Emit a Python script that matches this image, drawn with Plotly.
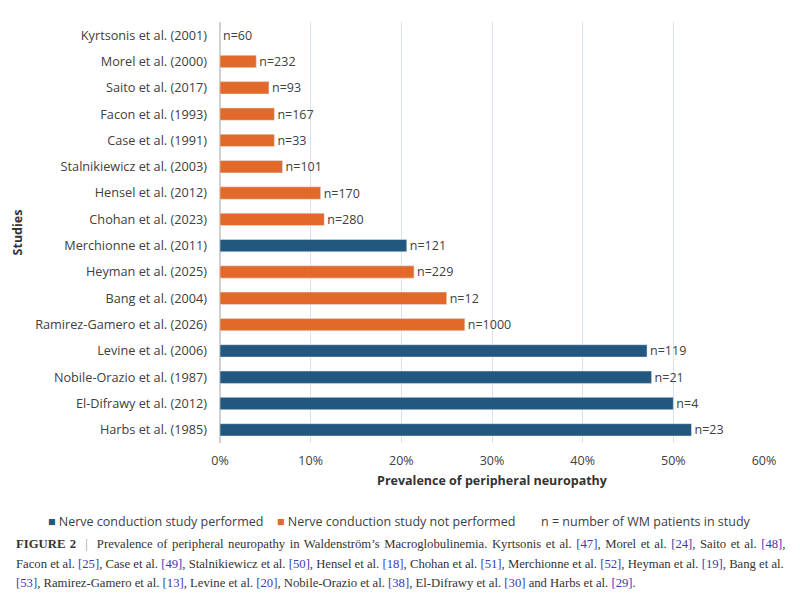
import plotly.graph_objects as go

# studies listed top to bottom as in the figure
studies = [
    "Kyrtsonis et al. (2001)", "Morel et al. (2000)", "Saito et al. (2017)",
    "Facon et al. (1993)", "Case et al. (1991)", "Stalnikiewicz et al. (2003)",
    "Hensel et al. (2012)", "Chohan et al. (2023)", "Merchionne et al. (2011)",
    "Heyman et al. (2025)", "Bang et al. (2004)", "Ramirez-Gamero et al. (2026)",
    "Levine et al. (2006)", "Nobile-Orazio et al. (1987)", "El-Difrawy et al. (2012)",
    "Harbs et al. (1985)",
]
prevalence = [0, 4, 5.4, 6, 6, 6.9, 11.1, 11.5, 20.6, 21.4, 25, 27, 47.1, 47.6, 50, 52]
n_patients = [60, 232, 93, 167, 33, 101, 170, 280, 121, 229, 12, 1000, 119, 21, 4, 23]
ncs_done = [False, False, False, False, False, False, False, False, True,
            False, False, False, True, True, True, True]

blue = "#22577f"
orange = "#e2692a"
names = {True: "Nerve conduction study performed",
         False: "Nerve conduction study not performed"}

fig = go.Figure()
for flag, col in [(True, blue), (False, orange)]:
    xs = [v / 100 if d == flag else None for v, d in zip(prevalence, ncs_done)]
    txt = ["n=%d" % n if d == flag else "" for n, d in zip(n_patients, ncs_done)]
    fig.add_trace(go.Bar(
        y=studies, x=xs, orientation="h", name=names[flag], marker_color=col,
        width=0.47, text=txt, textposition="outside", cliponaxis=False,
        constraintext="none", textfont=dict(size=12.5, color="#404040"),
        showlegend=False,
    ))

# plot area in figure pixels (page adds an 8px offset)
L, R, T, B = 212, 756, 14, 435
W, H = R - L, B - T


def xrel(x):
    return (x - 8 - L) / W


def yrel(y):
    return -((y - 8) - B) / H


fig.update_layout(
    width=800, height=599,
    paper_bgcolor="white", plot_bgcolor="white",
    barmode="overlay",
    font=dict(family="Open Sans, Roboto, sans-serif", size=12, color="#404040"),
    margin=dict(l=L, r=800 - R, t=T, b=599 - B, autoexpand=False),
)
fig.update_xaxes(range=[0, 0.6], dtick=0.1, tickformat=".0%",
                 showgrid=True, gridcolor="#d9e1ea", zeroline=True,
                 zerolinecolor="#d0d0d0", ticks="", ticklabelstandoff=8,
                 tickfont=dict(size=12.5),
                 title=dict(text="<b>Prevalence of peripheral neuropathy</b>",
                            font=dict(size=12.5, color="#333333"), standoff=8))
fig.update_yaxes(autorange="reversed", ticks="", ticklabelstandoff=12,
                 tickfont=dict(size=12.7),
                 title=dict(text="<b>Studies</b>", font=dict(size=12.5, color="#333333"),
                            standoff=9))

legend_items = [
    ("<span style='color:%s'>■</span> %s" % (blue, names[True]), 46),
    ("<span style='color:%s'>■</span> %s" % (orange, names[False]), 275),
    ("n = number of WM patients in study", 539),
]
for txt, x0 in legend_items:
    fig.add_annotation(text=txt, xref="paper", yref="paper", x=xrel(x0), y=yrel(521),
                       xanchor="left", yanchor="middle", showarrow=False,
                       font=dict(size=12.5, color="#404040"))

ref = lambda r: "<span style='color:#3b3bb0'>[%s]</span>" % r
caption_lines = [
    "<span style='word-spacing:1.35px'><b>FIGURE 2</b>  <span style='color:#999999'>|</span>  "
    "Prevalence of peripheral neuropathy in Waldenström’s Macroglobulinemia. Kyrtsonis et al. "
    + ref(47) + ", Morel et al. " + ref(24) + ", Saito et al. " + ref(48) + ",</span>",
    "Facon et al. " + ref(25) + ", Case et al. " + ref(49) + ", Stalnikiewicz et al. " + ref(50)
    + ", Hensel et al. " + ref(18) + ", Chohan et al. " + ref(51) + ", Merchionne et al. "
    + ref(52) + ", Heyman et al. " + ref(19) + ", Bang et al.",
    ref(53) + ", Ramirez-Gamero et al. " + ref(13) + ", Levine et al. " + ref(20)
    + ", Nobile-Orazio et al. " + ref(38) + ", El-Difrawy et al. " + ref(30)
    + " and Harbs et al. " + ref(29) + ".",
]
for line, yc in zip(caption_lines, [544, 564, 583]):
    fig.add_annotation(text=line, xref="paper", yref="paper",
                       x=xrel(14), y=yrel(yc), xanchor="left", yanchor="middle",
                       align="left", showarrow=False,
                       font=dict(family="Liberation Serif, DejaVu Serif, serif", size=12.7,
                                 color="#333333"))

fig.write_html("out.html")
